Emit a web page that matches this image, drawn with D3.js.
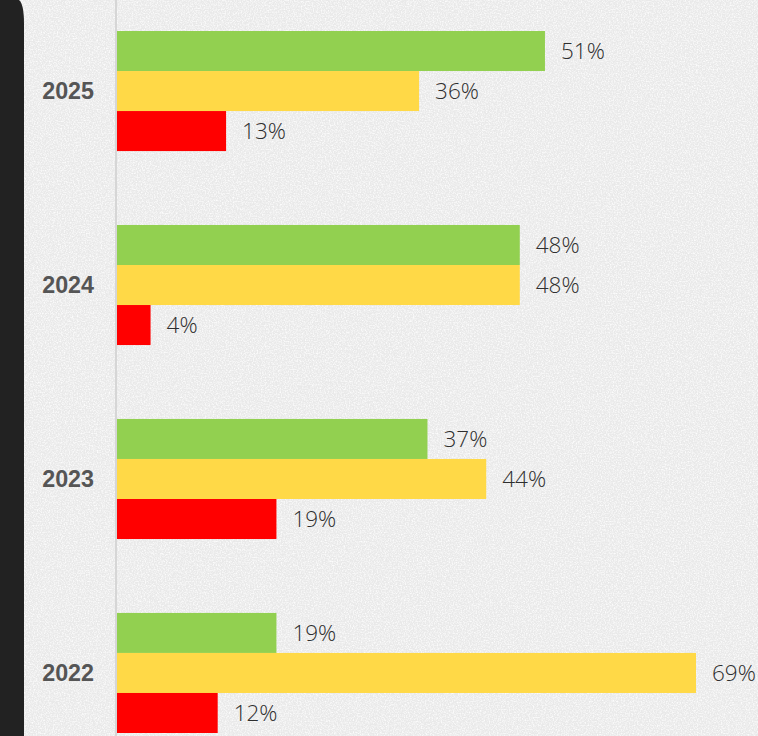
<!DOCTYPE html>
<html><head><meta charset="utf-8">
<script src="https://cdn.jsdelivr.net/npm/d3@7"></script>
<style>html,body{margin:0;padding:0;background:#eeeeee;overflow:hidden}</style>
</head><body>
<script>
const years = ["2025", "2024", "2023", "2022"];
const seriesNames = ["green", "yellow", "red"];
const greenValues = [51, 48, 37, 19];
const yellowValues = [36, 48, 44, 69];
const redValues = [13, 4, 19, 12];
const seriesColors = ["#92d050", "#ffd947", "#ff0000"];

const W = 758, H = 736;
const svg = d3.select("body").append("svg").attr("width", W).attr("height", H);
const defs = svg.append("defs");
const f = defs.append("filter").attr("id", "noise").attr("x", 0).attr("y", 0).attr("width", "100%").attr("height", "100%");
f.append("feTurbulence").attr("type", "fractalNoise").attr("baseFrequency", 0.75).attr("numOctaves", 2).attr("seed", 3).attr("result", "t");
f.append("feColorMatrix").attr("type", "matrix")
  .attr("values", "0 0 0 0 1  0 0 0 0 1  0 0 0 0 1  0 0 0 -2.2 1.35");

svg.append("rect").attr("width", W).attr("height", H).attr("fill", "#e9e9e9");
svg.append("rect").attr("width", W).attr("height", H).attr("filter", "url(#noise)").attr("opacity", 0.9);

// dark panel at left
svg.append("path").attr("d", "M0,0 L19,0 Q24,4 24,24 L24,736 L0,736 Z").attr("fill", "#222222");

const data = years.map((y, i) => ({ year: y, values: [greenValues[i], yellowValues[i], redValues[i]] }));

const x = d3.scaleLinear().domain([0, 69]).range([117, 696]);
const y0 = d3.scaleBand().domain(years).range([31, 733]).paddingInner(0.381).paddingOuter(0);
const y1 = d3.scaleBand().domain(seriesNames).range([0, y0.bandwidth()]).padding(0);

// axis line
svg.append("line").attr("x1", 116).attr("x2", 116).attr("y1", 0).attr("y2", H)
  .attr("stroke", "#d6d6d6").attr("stroke-width", 2);

const g = svg.selectAll("g.grp").data(data).join("g").attr("class", "grp")
  .attr("transform", d => `translate(0,${y0(d.year)})`);

g.selectAll("rect").data(d => d.values.map((v, j) => ({ v, s: seriesNames[j], c: seriesColors[j] })))
  .join("rect")
  .attr("x", x(0)).attr("y", d => y1(d.s))
  .attr("width", d => x(d.v) - x(0)).attr("height", y1.bandwidth())
  .attr("fill", d => d.c);

g.selectAll("text.val").data(d => d.values.map((v, j) => ({ v, s: seriesNames[j] })))
  .join("text").attr("class", "val")
  .attr("x", d => x(d.v) + 16).attr("y", d => y1(d.s) + y1.bandwidth() / 2)
  .attr("dy", "0.36em")
  .attr("font-family", "'Open Sans', 'Noto Sans', sans-serif").attr("font-weight", 300).attr("font-size", 22.5)
  .attr("fill", "#2e2e2e").text(d => d.v + "%");

// year axis labels
const yAxis = d3.axisLeft(y0).tickSize(0).tickPadding(0);
const ax = svg.append("g").attr("transform", "translate(94,0)").call(yAxis);
ax.select(".domain").remove();
ax.selectAll("text").attr("font-family", "'Liberation Sans', Arial, sans-serif")
  .attr("font-weight", "bold").attr("font-size", 23.3).attr("fill", "#555").attr("dy", "0.36em");
</script>
</body></html>
